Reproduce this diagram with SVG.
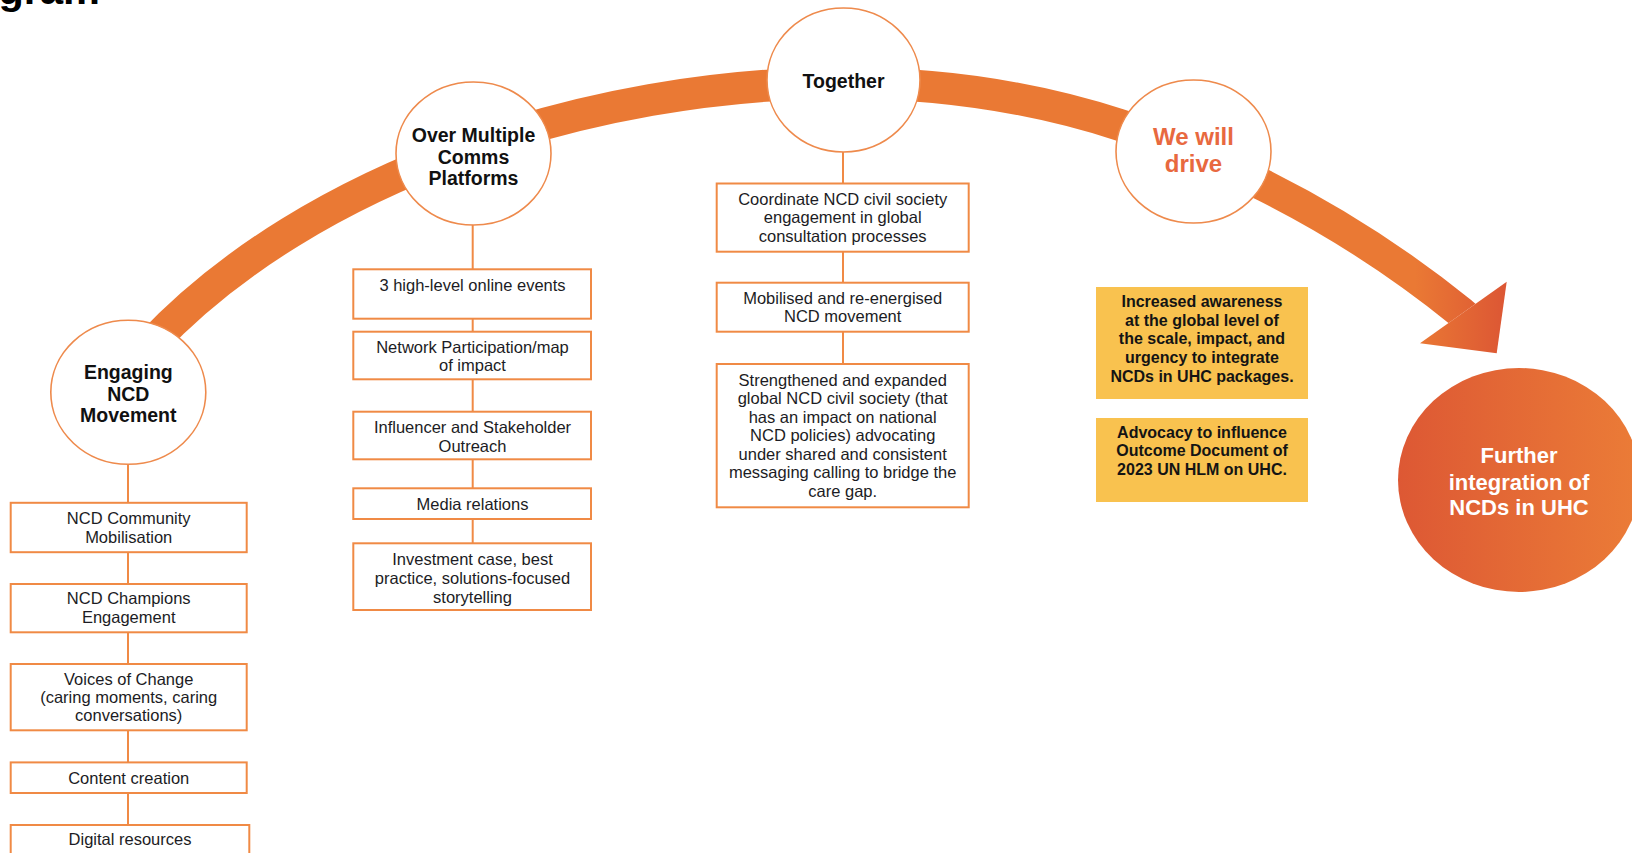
<svg xmlns="http://www.w3.org/2000/svg" width="1632" height="853" viewBox="0 0 1632 853">
<style>
.node-circle{fill:#ffffff;stroke:#EE8A4C;stroke-width:1.6}
.box{fill:#ffffff;stroke:#F08A45;stroke-width:2}
.ybox{fill:#F9C24F}
.conn{stroke:#F08A45;stroke-width:2;fill:none}
.ct{font-family:"Liberation Sans",Arial,sans-serif;font-weight:bold;font-size:19.5px;fill:#111111;text-anchor:middle}
.bt{font-family:"Liberation Sans",Arial,sans-serif;font-size:16.5px;fill:#1c1c24;text-anchor:middle}
.yt{font-family:"Liberation Sans",Arial,sans-serif;font-weight:bold;font-size:16px;fill:#141414;text-anchor:middle}
</style>
<defs>
<linearGradient id="bandGrad" gradientUnits="userSpaceOnUse" x1="1415" y1="0" x2="1507" y2="0">
<stop offset="0" stop-color="#EA7934"/>
<stop offset="1" stop-color="#DC5634"/>
</linearGradient>
<linearGradient id="endGrad" x1="0" y1="0" x2="1" y2="0">
<stop offset="0" stop-color="#DD5834"/>
<stop offset="1" stop-color="#EB7C37"/>
</linearGradient>
<clipPath id="shaftClip">
<polygon points="-10,-10 1700,-10 1700,144.4 1100,570.7 -10,860"/>
</clipPath>
</defs>

<rect x="0" y="0" width="1632" height="853" fill="#ffffff"/>

<text x="100" y="4" font-family="'Liberation Sans',Arial,sans-serif" font-weight="bold" font-size="41.5" fill="#000000" text-anchor="end">gram</text>

<g id="band">
<path clip-path="url(#shaftClip)" d="M 150 345 C 310 175, 590 83, 843 83 C 936 83, 1031.6 96.3, 1120 125 C 1169.5 141.1, 1218.5 162.8, 1265 186 C 1334.7 220.9, 1401.1 263.9, 1461.7 313 L 1477 326" fill="none" stroke="url(#bandGrad)" stroke-width="32"/>
<polygon points="1506.7,281.7 1420,343.3 1496.7,353.3" fill="url(#bandGrad)"/>
</g>

<g id="connectors">
<line class="conn" x1="128" y1="464" x2="128" y2="503"/>
<line class="conn" x1="128" y1="552" x2="128" y2="584"/>
<line class="conn" x1="128" y1="632" x2="128" y2="664"/>
<line class="conn" x1="128" y1="730" x2="128" y2="762"/>
<line class="conn" x1="128" y1="793" x2="128" y2="825"/>
<line class="conn" x1="472.7" y1="225" x2="472.7" y2="269.3"/>
<line class="conn" x1="472.7" y1="318.7" x2="472.7" y2="331.7"/>
<line class="conn" x1="472.7" y1="379.3" x2="472.7" y2="411.7"/>
<line class="conn" x1="472.7" y1="459.3" x2="472.7" y2="488.3"/>
<line class="conn" x1="472.7" y1="519" x2="472.7" y2="543.3"/>
<line class="conn" x1="843" y1="152" x2="843" y2="183.5"/>
<line class="conn" x1="843" y1="251.7" x2="843" y2="282.7"/>
<line class="conn" x1="843" y1="331.7" x2="843" y2="364"/>
</g>

<g id="engaging">
<ellipse class="node-circle" cx="128.3" cy="392.3" rx="77.5" ry="72"/>
<text class="ct" x="128.3" y="379">Engaging</text>
<text class="ct" x="128.3" y="400.5">NCD</text>
<text class="ct" x="128.3" y="422">Movement</text>
</g>

<g id="over-multiple">
<ellipse class="node-circle" cx="473.5" cy="153.5" rx="77.5" ry="71.5"/>
<text class="ct" x="473.5" y="142">Over Multiple</text>
<text class="ct" x="473.5" y="163.5">Comms</text>
<text class="ct" x="473.5" y="185">Platforms</text>
</g>

<g id="together">
<ellipse class="node-circle" cx="843.5" cy="80" rx="76.5" ry="72"/>
<text class="ct" x="843.5" y="87.5">Together</text>
</g>

<g id="we-will-drive">
<ellipse class="node-circle" cx="1193.5" cy="151.5" rx="77.5" ry="71.5"/>
<text x="1193.5" y="144.6" font-family="'Liberation Sans',Arial,sans-serif" font-weight="bold" font-size="24" fill="#E8693F" text-anchor="middle">We will</text>
<text x="1193.5" y="172" font-family="'Liberation Sans',Arial,sans-serif" font-weight="bold" font-size="24" fill="#E8693F" text-anchor="middle">drive</text>
</g>

<g id="further-integration">
<ellipse cx="1519" cy="480" rx="121" ry="112" fill="url(#endGrad)"/>
<text x="1519" y="463" font-family="'Liberation Sans',Arial,sans-serif" font-weight="bold" font-size="22" fill="#ffffff" text-anchor="middle">Further</text>
<text x="1519" y="489.5" font-family="'Liberation Sans',Arial,sans-serif" font-weight="bold" font-size="22" fill="#ffffff" text-anchor="middle">integration of</text>
<text x="1519" y="514.5" font-family="'Liberation Sans',Arial,sans-serif" font-weight="bold" font-size="22" fill="#ffffff" text-anchor="middle">NCDs in UHC</text>
</g>

<g id="ncd-community">
<rect class="box" x="10.7" y="502.8" width="236" height="49.4"/>
<text class="bt" x="128.7" y="524">NCD Community</text>
<text class="bt" x="128.7" y="542.5">Mobilisation</text>
</g>
<g id="ncd-champions">
<rect class="box" x="10.7" y="584" width="236" height="48.3"/>
<text class="bt" x="128.7" y="604">NCD Champions</text>
<text class="bt" x="128.7" y="622.5">Engagement</text>
</g>
<g id="voices-of-change">
<rect class="box" x="10.7" y="664" width="236" height="66.3"/>
<text class="bt" x="128.7" y="685">Voices of Change</text>
<text class="bt" x="128.7" y="703">(caring moments, caring</text>
<text class="bt" x="128.7" y="721">conversations)</text>
</g>
<g id="content-creation">
<rect class="box" x="10.7" y="762.4" width="236" height="30.6"/>
<text class="bt" x="128.7" y="783.5">Content creation</text>
</g>
<g id="digital-resources">
<rect class="box" x="10.7" y="825" width="238.6" height="40"/>
<text class="bt" x="130" y="844.5">Digital resources</text>
</g>

<g id="online-events">
<rect class="box" x="353.3" y="269.3" width="237.7" height="49.4"/>
<text class="bt" x="472.5" y="291">3 high-level online events</text>
</g>
<g id="network-participation">
<rect class="box" x="353.3" y="331.7" width="237.7" height="47.6"/>
<text class="bt" x="472.5" y="353">Network Participation/map</text>
<text class="bt" x="472.5" y="370.5">of impact</text>
</g>
<g id="influencer-outreach">
<rect class="box" x="353.3" y="411.7" width="237.7" height="47.6"/>
<text class="bt" x="472.5" y="433">Influencer and Stakeholder</text>
<text class="bt" x="472.5" y="451.5">Outreach</text>
</g>
<g id="media-relations">
<rect class="box" x="353.3" y="488.3" width="237.7" height="30.7"/>
<text class="bt" x="472.5" y="509.5">Media relations</text>
</g>
<g id="investment-case">
<rect class="box" x="353.3" y="543.3" width="237.7" height="66.7"/>
<text class="bt" x="472.5" y="565">Investment case, best</text>
<text class="bt" x="472.5" y="584">practice, solutions-focused</text>
<text class="bt" x="472.5" y="603">storytelling</text>
</g>

<g id="coordinate">
<rect class="box" x="716.7" y="183.5" width="252" height="68.2"/>
<text class="bt" x="842.7" y="204.5">Coordinate NCD civil society</text>
<text class="bt" x="842.7" y="223">engagement in global</text>
<text class="bt" x="842.7" y="241.5">consultation processes</text>
</g>
<g id="mobilised">
<rect class="box" x="716.7" y="282.7" width="252" height="49"/>
<text class="bt" x="842.7" y="304">Mobilised and re-energised</text>
<text class="bt" x="842.7" y="322">NCD movement</text>
</g>
<g id="strengthened">
<rect class="box" x="716.7" y="364" width="252" height="143.3"/>
<text class="bt" x="842.7" y="385.5">Strengthened and expanded</text>
<text class="bt" x="842.7" y="404">global NCD civil society (that</text>
<text class="bt" x="842.7" y="422.5">has an impact on national</text>
<text class="bt" x="842.7" y="441">NCD policies) advocating</text>
<text class="bt" x="842.7" y="459.5">under shared and consistent</text>
<text class="bt" x="842.7" y="478">messaging calling to bridge the</text>
<text class="bt" x="842.7" y="496.5">care gap.</text>
</g>

<g id="increased-awareness">
<rect class="ybox" x="1096" y="287" width="212" height="112"/>
<text class="yt" x="1202" y="306.8">Increased awareness</text>
<text class="yt" x="1202" y="325.5">at the global level of</text>
<text class="yt" x="1202" y="344.2">the scale, impact, and</text>
<text class="yt" x="1202" y="362.9">urgency to integrate</text>
<text class="yt" x="1202" y="381.6">NCDs in UHC packages.</text>
</g>
<g id="advocacy">
<rect class="ybox" x="1096" y="418" width="212" height="84"/>
<text class="yt" x="1202" y="437.5">Advocacy to influence</text>
<text class="yt" x="1202" y="456.3">Outcome Document of</text>
<text class="yt" x="1202" y="475">2023 UN HLM on UHC.</text>
</g>
</svg>
